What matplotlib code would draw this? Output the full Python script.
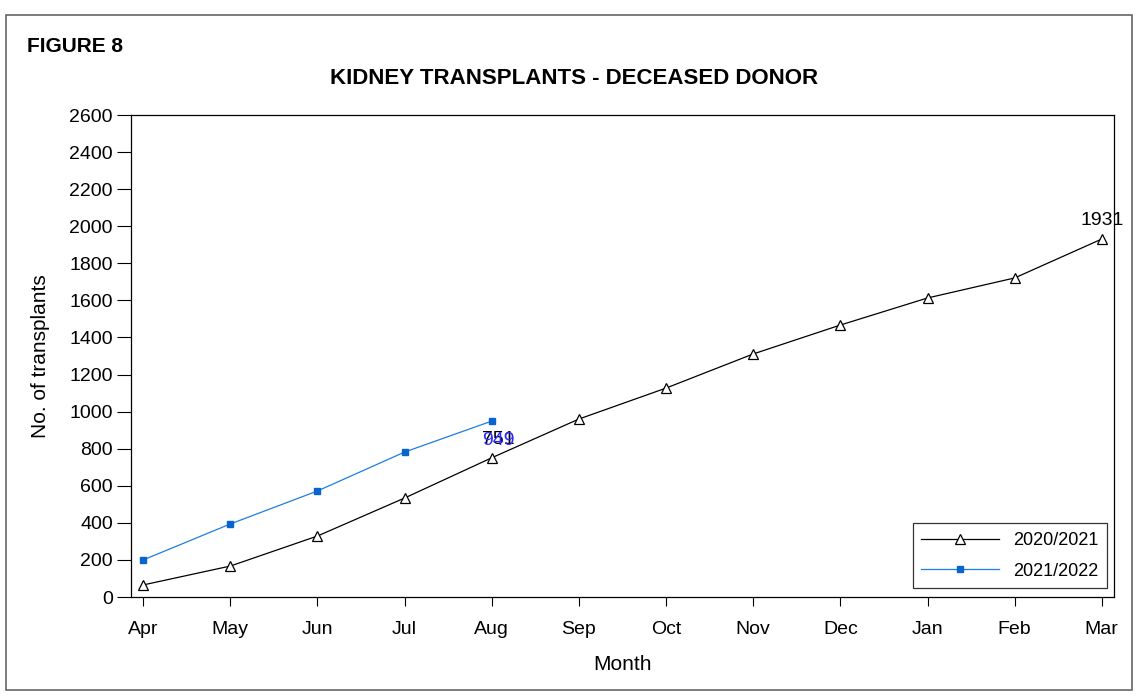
import matplotlib
matplotlib.use("Agg")
import matplotlib.pyplot as plt
from matplotlib.patches import Rectangle

plt.rcParams['font.family'] = ['Liberation Sans', 'DejaVu Sans']

# data
months = ["Apr", "May", "Jun", "Jul", "Aug", "Sep", "Oct", "Nov", "Dec", "Jan", "Feb", "Mar"]
tx_2020 = [65, 167, 329, 534, 751, 960, 1127, 1311, 1467, 1613, 1721, 1931]
tx_2021 = [200, 394, 572, 782, 949]
y_ticks = list(range(0, 2601, 200))

fig = plt.figure(figsize=(11.37, 6.97), dpi=100)
ax = fig.add_axes([131 / 1137, 1 - 597 / 697, (1114 - 131) / 1137, (597 - 115) / 697])

x1 = list(range(len(tx_2020)))
x2 = list(range(len(tx_2021)))
ax.plot(x1, tx_2020, color="black", lw=0.9, marker="^", ms=7.5,
        mfc="white", mec="black", mew=0.9, label="2020/2021")
ax.plot(x2, tx_2021, color="#1c7fe0", lw=0.9, marker="s", ms=5,
        mfc="#0a64d0", mec="#0a64d0", label="2021/2022")

# value labels (overlapping each other, as in the original)
ax.annotate(str(tx_2020[-1]), (x1[-1], tx_2020[-1]), xytext=(0, 7),
            textcoords="offset points", ha="center", va="bottom", fontsize=14)
ax.annotate(str(tx_2020[4]), (x1[4], tx_2020[4]), xytext=(4.5, 13),
            textcoords="offset points", ha="center", va="center", fontsize=14)
ax.annotate(str(tx_2021[-1]), (x2[-1], tx_2021[-1]), xytext=(4.5, -14),
            textcoords="offset points", ha="center", va="center", fontsize=14,
            color="#2a2aff")

ax.set_xlim(-0.14, 11.14)
ax.set_ylim(0, 2600)
ax.set_xticks(x1)
ax.set_xticklabels(months, fontsize=14)
ax.set_yticks(y_ticks)
ax.set_yticklabels([str(v) for v in y_ticks], fontsize=14)
ax.tick_params(axis="y", length=10, width=0.8, pad=3)
ax.tick_params(axis="x", length=6.5, width=0.8, pad=11)
for s in ax.spines.values():
    s.set_linewidth(0.9)

ax.set_xlabel("Month", fontsize=15, labelpad=12)
ax.set_ylabel("No. of transplants", fontsize=15, labelpad=14)

leg = ax.legend(loc="lower right", fontsize=13, frameon=True, fancybox=False,
                edgecolor="black", handlelength=4.3, handletextpad=0.78,
                borderpad=0.47, labelspacing=0.75, borderaxespad=0,
                bbox_to_anchor=(1 - 7 / 983, 9 / 482))
leg.get_frame().set_linewidth(0.9)

fig.text(27 / 1137, 1 - 46 / 697, "FIGURE 8", fontsize=15, fontweight="bold",
         va="center", ha="left")
fig.text(574 / 1137, 1 - 78 / 697, "KIDNEY TRANSPLANTS - DECEASED DONOR",
         fontsize=16, fontweight="bold", va="center", ha="center")

# outer frame
fig.patches.append(Rectangle((6 / 1137, 1 - 690 / 697), (1132 - 6) / 1137,
                             (690 - 15) / 697, transform=fig.transFigure,
                             fill=False, edgecolor="#666666", lw=1.2))

fig.savefig("out.png", dpi=100)
